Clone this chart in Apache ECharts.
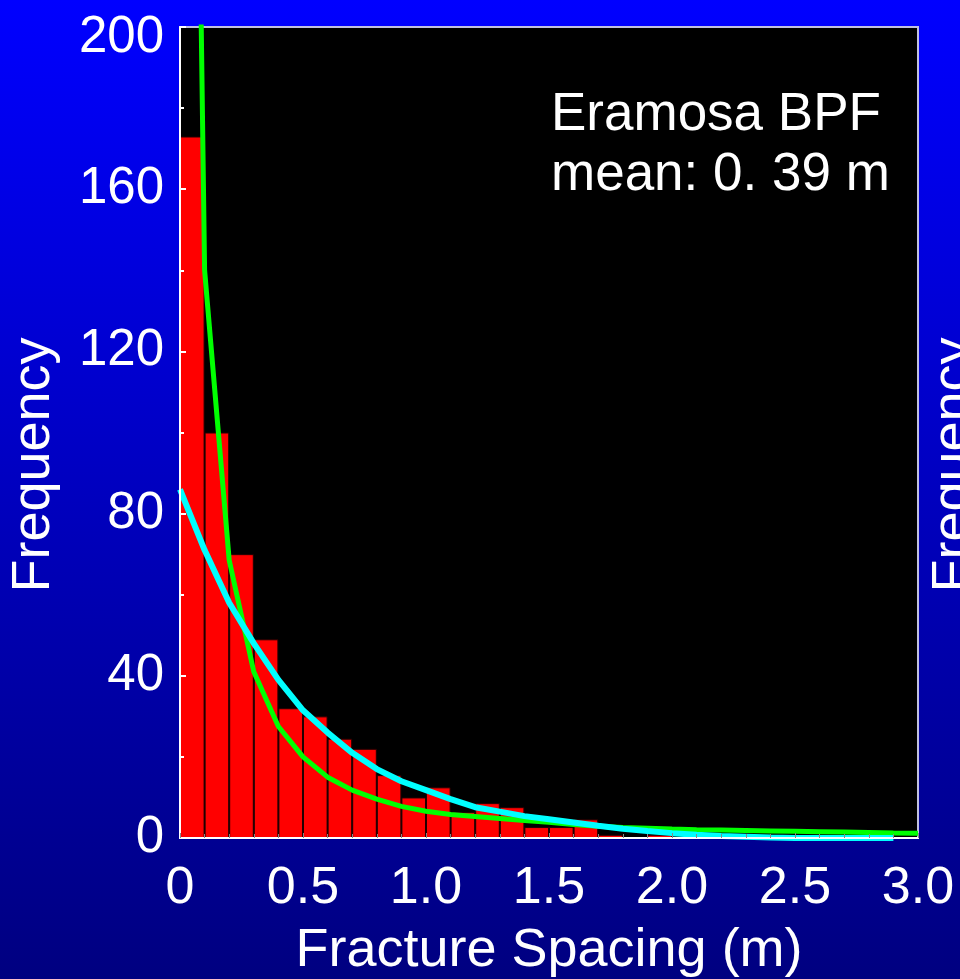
<!DOCTYPE html>
<html>
<head>
<meta charset="utf-8">
<script src="https://cdn.jsdelivr.net/npm/echarts@6/dist/echarts.min.js"></script>
<style>html,body{margin:0;padding:0;}#c{width:960px;height:979px;}</style>
</head>
<body>
<div id="c"></div>
<script>
// Histogram bins (0.1 m wide) and frequencies
var binLabels = ['0.0','0.1','0.2','0.3','0.4','0.5','0.6','0.7','0.8','0.9','1.0','1.1','1.2','1.3','1.4','1.5','1.6','1.7','1.8','1.9','2.0','2.1','2.2','2.3','2.4','2.5','2.6','2.7','2.8','2.9'];
var barValues = [173,100,70,49,32,30,24.5,22,15.5,10,12.5,6.4,8.6,7.6,2.7,2.7,4.6,0.8,0,0.8,0,0.4,0,0,0,0,0,0,0,0];

// Exponential fit (cyan)
var expX = [0,0.1,0.2,0.3,0.4,0.5,0.6,0.7,0.8,0.9,1.0,1.1,1.2,1.3,1.4,1.5,1.6,1.7,1.8,1.9,2.0,2.1,2.2,2.3,2.4,2.5,2.6,2.7,2.8,2.9];
var expY = [86,71,58,48,39,31.5,26,21,17,14,11.8,9.6,7.6,6.5,5.4,4.6,3.8,3.0,2.3,1.7,1.2,0.8,0.5,0.3,0.1,0,0,0,0,0];

// Power-law fit (green)
var powX = [0.05,0.1,0.2,0.3,0.4,0.5,0.6,0.7,0.8,0.9,1.0,1.1,1.2,1.3,1.4,1.5,1.6,1.7,1.8,1.9,2.0,2.1,2.2,2.3,2.4,2.5,2.6,2.7,2.8,2.9,3.0];
var powY = [360,140,68.5,41,27.5,20,15,11.8,9.6,7.8,6.6,5.8,5.3,4.8,4.3,3.9,3.3,2.9,2.6,2.4,2.2,2.05,1.95,1.85,1.75,1.65,1.55,1.45,1.35,1.25,1.2];

var xTicks = [0,0.5,1.0,1.5,2.0,2.5,3.0];
var yTicks = [0,40,80,120,160,200];

var FONT = '"Liberation Sans", Arial, sans-serif';

function pairs(xs, ys){ return xs.map(function(x,i){ return [x, ys[i]]; }); }

var chart = echarts.init(document.getElementById('c'), null, {renderer:'canvas'});
chart.setOption({
  animation:false,
  backgroundColor:{type:'linear',x:0,y:0,x2:0,y2:1,colorStops:[{offset:0,color:'#0000ff'},{offset:1,color:'#000080'}]},
  grid:{left:180,right:42,top:27,bottom:141,containLabel:false,outerBoundsMode:'none',show:true,backgroundColor:'#000000',borderColor:'#c0c0e0',borderWidth:2},
  xAxis:[{
    type:'value',min:xTicks[0],max:xTicks[xTicks.length-1],interval:0.5,
    name:'Fracture Spacing (m)',nameLocation:'middle',nameGap:86,
    nameTextStyle:{color:'#ffffff',fontSize:54,fontFamily:FONT},
    axisLine:{show:true,lineStyle:{color:'#ffffff',width:2}},
    axisTick:{show:true,inside:true,length:5,lineStyle:{color:'#888888'}},
    minorTick:{show:true,splitNumber:5,length:4,lineStyle:{color:'#888888'}},
    splitLine:{show:false},
    axisLabel:{color:'#ffffff',fontSize:52,fontFamily:FONT,margin:25,
      formatter:function(v){ return v===0?'0':v.toFixed(1); }},
    z:5
  },{
    type:'category',data:binLabels,show:false,boundaryGap:true
  }],
  yAxis:{
    type:'value',min:yTicks[0],max:yTicks[yTicks.length-1],interval:40,
    axisLine:{show:true,lineStyle:{color:'#ffffff',width:2}},
    axisTick:{show:true,inside:true,length:6,lineStyle:{color:'#ffffff',width:2}},
    minorTick:{show:true,splitNumber:2,length:4,lineStyle:{color:'#ffffff',width:2}},
    splitLine:{show:false},
    axisLabel:{color:'#ffffff',fontSize:51,fontFamily:FONT,margin:16,
      formatter:function(v){ return v===200 ? '{t|200}' : String(v); },
      rich:{t:{color:'#ffffff',fontSize:51,fontFamily:FONT,padding:[22,0,0,0]}}},
    z:5
  },
  series:[{
    type:'bar',xAxisIndex:1,data:barValues,barWidth:'100%',
    itemStyle:{color:'#ff0000',borderColor:'#200000',borderWidth:1},
    z:2
  },{
    type:'line',xAxisIndex:0,data:pairs(powX,powY),showSymbol:false,symbol:'none',
    lineStyle:{color:'#00ff00',width:5},clip:true,z:3
  },{
    type:'line',xAxisIndex:0,data:pairs(expX,expY),showSymbol:false,symbol:'none',
    lineStyle:{color:'#00ffff',width:6},clip:false,z:4
  }],
  graphic:[
    {type:'text',x:34,y:465,rotation:Math.PI/2,style:{text:'Frequency',fill:'#ffffff',font:'54px '+FONT,textAlign:'center',textVerticalAlign:'middle'}},
    {type:'text',x:954,y:465,rotation:Math.PI/2,style:{text:'Frequency',fill:'#ffffff',font:'54px '+FONT,textAlign:'center',textVerticalAlign:'middle'}},
    {type:'text',x:551,y:115,style:{text:'Eramosa BPF',fill:'#ffffff',font:'53px '+FONT,textAlign:'left',textVerticalAlign:'middle'}},
    {type:'text',x:551,y:175,style:{text:'mean: 0. 39 m',fill:'#ffffff',font:'53px '+FONT,textAlign:'left',textVerticalAlign:'middle'}}
  ]
});
</script>
</body>
</html>
